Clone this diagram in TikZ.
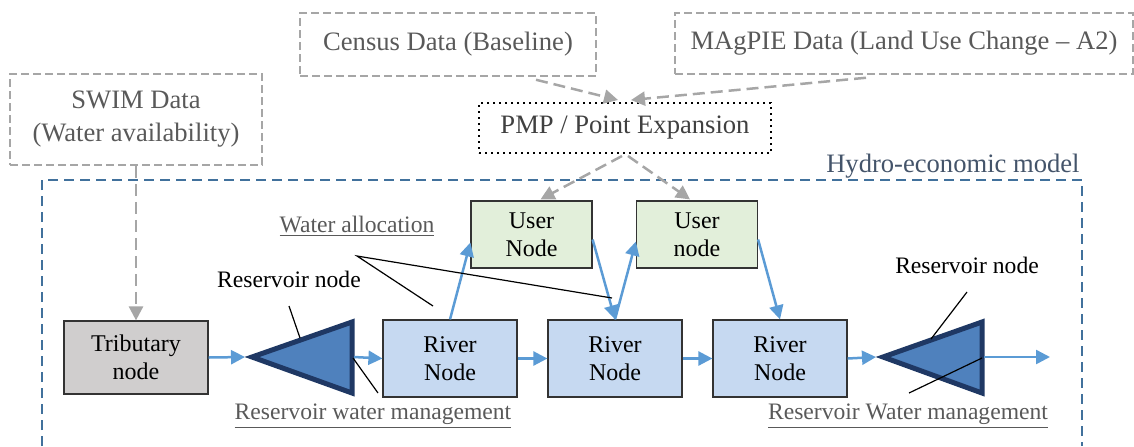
\documentclass[tikz,border=0pt]{standalone}
\usepackage{fontspec}
\setmainfont{Liberation Serif}
\usetikzlibrary{arrows.meta,calc}
\definecolor{datagray}{HTML}{A6A6A6}
\definecolor{textgray}{HTML}{595959}
\definecolor{flowblue}{HTML}{5B9BD5}
\definecolor{modelblue}{HTML}{41719C}
\definecolor{labelblue}{HTML}{44546A}
\definecolor{riverfill}{HTML}{C6D9F1}
\definecolor{userfill}{HTML}{E2EFDA}
\definecolor{tribfill}{HTML}{D0CECE}
\definecolor{resfill}{HTML}{4F81BD}
\definecolor{resdraw}{HTML}{1F3864}
\newcommand{\labelfont}{\fontsize{13.3pt}{14.5pt}\selectfont}
\newcommand{\modelfont}{\fontsize{12pt}{13.8pt}\selectfont}
\tikzstyle{databox}=[draw=datagray, line width=0.75pt, dash pattern=on 4pt off 2pt, text=textgray, align=center, inner sep=0]
\tikzstyle{modelnode}=[draw=black!80, line width=0.6pt, align=center, inner sep=0, minimum width=67pt, minimum height=38.5pt, font=\modelfont]
\tikzstyle{rivernode}=[modelnode, fill=riverfill]
\tikzstyle{usernode}=[modelnode, fill=userfill, minimum width=60.5pt, minimum height=33.5pt]
\tikzstyle{tribnode}=[modelnode, fill=tribfill, minimum width=72pt, minimum height=36.5pt]
\tikzstyle{reservoir}=[draw=resdraw, fill=resfill, line width=2.5pt, line join=miter]
\tikzstyle{flow}=[draw=flowblue, line width=1.25pt, -{Triangle[length=7pt,width=7pt]}]
\tikzstyle{datalink}=[draw=datagray, line width=1.25pt, dash pattern=on 6pt off 3pt, -{Triangle[length=7pt,width=7pt]}]
\tikzstyle{pointer}=[draw=black, line width=0.6pt]
\tikzstyle{remark}=[text=textgray, inner sep=0, font=\fontsize{11.8pt}{13.5pt}\selectfont]
\begin{document}
\begin{tikzpicture}[x=0.5pt, y=-0.5pt, font=\labelfont]
    \useasboundingbox (0,0) rectangle (1134,446);
    % Input data.
    \node[databox, minimum width=148pt, minimum height=31.5pt] (census) at (448,44.5) {Census Data (Baseline)};
    \node[databox, minimum width=229pt, minimum height=30.5pt] (magpie) at (904,43.5) {MAgPIE Data (Land Use Change -- A2)};
    \node[databox, minimum width=126pt, minimum height=45.5pt, font=\fontsize{13.3pt}{16.5pt}\selectfont] (swim) at (136,119.5) {SWIM Data\\(Water availability)};
    \node[draw, dotted, line width=1pt, minimum width=146pt, minimum height=25pt, inner sep=0, text=black!75] (pmp) at (625,128) {PMP / Point Expansion};
    % Model boundary.
    \draw[modelblue, line width=1.25pt, dash pattern=on 5pt off 3pt] (42,446) -- (42,180) -- (1082,180) -- (1082,446);
    \node[text=labelblue, anchor=base east, inner sep=0] (hydro) at (1080,172) {Hydro-economic model};
    % Network nodes.
    \node[tribnode] (trib) at (136,357.5) {Tributary\\node};
    \node[rivernode] (river1) at (450,358.5) {River\\Node};
    \node[rivernode] (river2) at (615,358.5) {River\\Node};
    \node[rivernode] (river3) at (780,358.5) {River\\Node};
    \node[usernode] (user1) at (531.5,234.5) {User\\Node};
    \node[usernode] (user2) at (697,234.5) {User\\node};
    \draw[reservoir] (252,357) -- (352,322) -- (352,393) -- cycle;
    \draw[reservoir] (883,357) -- (982,322) -- (982,393) -- cycle;
    \coordinate (res1tip) at (245,357);
    \coordinate (res1base) at (354,357);
    \coordinate (res2tip) at (876,357);
    \coordinate (res2base) at (984,357);
    \coordinate (outlet) at (1050,357);
    % Data links.
    \draw[datalink] ($(census.south)+(88,3)$) -- ($(pmp.north)+(-7,-2)$);
    \draw[datalink] ($(magpie.south)+(-38,3)$) -- ($(pmp.north)+(6,-2)$);
    \draw[datalink] ($(pmp.south)+(-3,2)$) -- ($(user1.north)+(9,-1)$);
    \draw[datalink] ($(pmp.south)+(3,2)$) -- ($(user2.north)+(-7,-1)$);
    \draw[datalink] (swim.south) -- (trib.north);
    % Water flows.
    \draw[flow] (trib.east) -- (res1tip);
    \draw[flow] (res1base) -- (river1.west);
    \draw[flow] (river1.east) -- (river2.west);
    \draw[flow] (river2.east) -- (river3.west);
    \draw[flow] (river3.east) -- (res2tip);
    \draw[flow] (res2base) -- (outlet);
    \draw[flow] (river1.north) -- ($(user1.west)+(0,8)$);
    \draw[flow] ($(user1.east)+(0,5)$) -- (river2.north);
    \draw[flow] (river2.north) -- ($(user2.west)+(0,7)$);
    \draw[flow] ($(user2.east)+(0,5)$) -- (river3.north);
    % Labels and pointers.
    \node[remark] (walloc) at (357,226) {\underline{Water allocation}};
    \node[remark, text=black] (resnode1) at (289,279) {Reservoir node};
    \node[remark, text=black] (resnode2) at (967,265) {Reservoir node};
    \node[remark] (rwm1) at (373,416) {\underline{Reservoir water management}};
    \node[remark] (rwm2) at (908,416) {\underline{Reservoir Water management}};
    \coordinate (wapoint) at (357,256);
    \draw[pointer] (433,306) -- (wapoint) -- (612,298);
    \draw[pointer] (289,306) -- (300,338);
    \draw[pointer] (353,358) -- (378,393);
    \draw[pointer] (967,292) -- (931,339);
    \draw[pointer] (982,358) -- (909,393);
\end{tikzpicture}
\end{document}
